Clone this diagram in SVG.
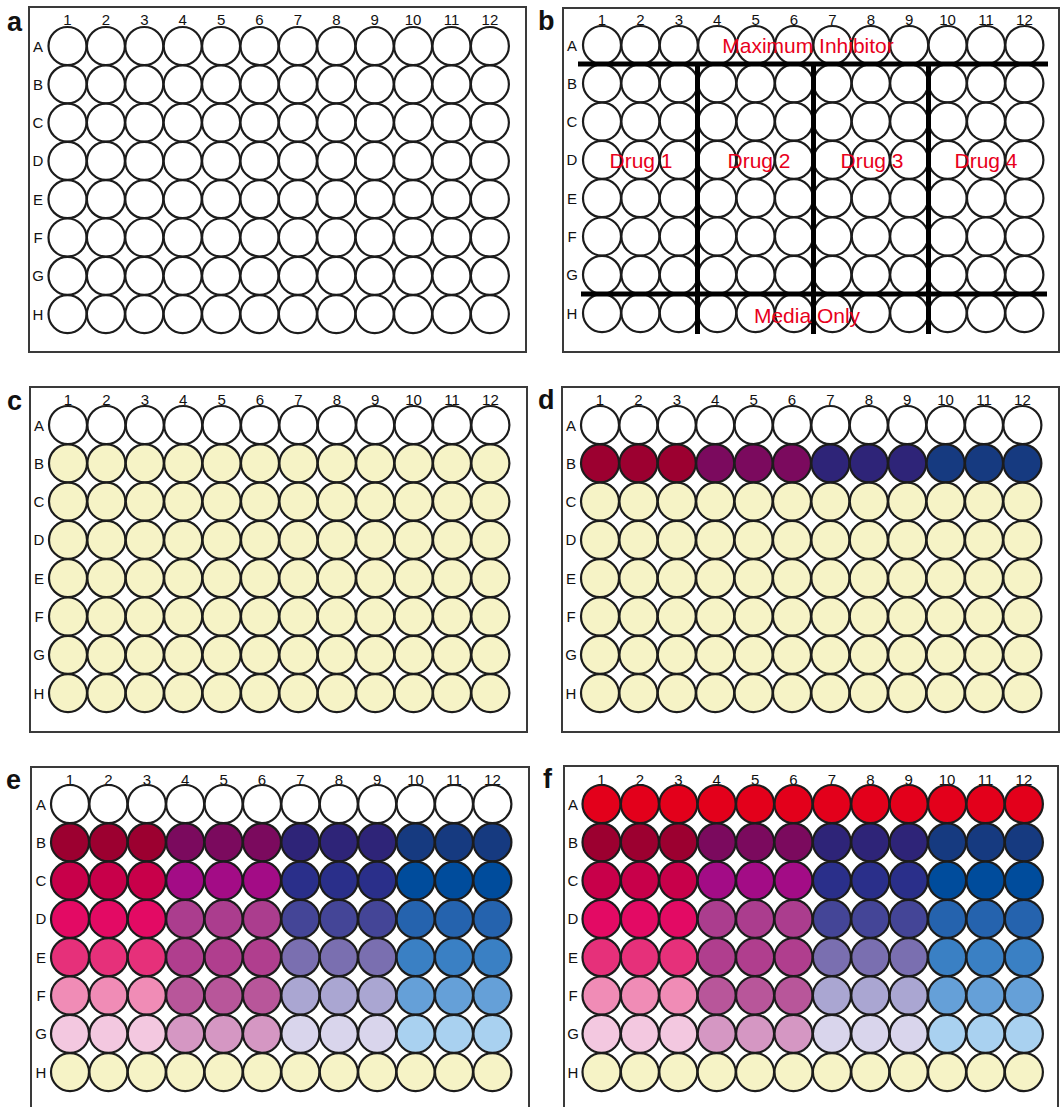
<svg xmlns="http://www.w3.org/2000/svg" xmlns:xlink="http://www.w3.org/1999/xlink" width="1061" height="1107" viewBox="0 0 1061 1107">
<style>
.frame{fill:#fff;stroke:#3a3a3a;stroke-width:2}
.well{stroke:#1c1c1c;stroke-width:2.2}
.num{font-family:"Liberation Sans",Arial,sans-serif;font-size:15px;fill:#111;text-anchor:middle}
.lbl{font-family:"Liberation Sans",Arial,sans-serif;font-size:27px;font-weight:bold;fill:#111}
.red{font-family:"Liberation Sans",Arial,sans-serif;font-size:21px;fill:#e8001c;text-anchor:middle}
.bar{stroke:#000;stroke-width:5;fill:none}
</style>
<defs>
<g id="tri"><circle class="well" cx="0" cy="0" r="19"/><circle class="well" cx="38.4" cy="0" r="19"/><circle class="well" cx="76.8" cy="0" r="19"/></g>
<g id="row"><use xlink:href="#tri" x="0"/><use xlink:href="#tri" x="115.2"/><use xlink:href="#tri" x="230.4"/><use xlink:href="#tri" x="345.6"/></g>
<g id="cols" class="num"><text x="0" y="0">1</text><text x="38.4" y="0">2</text><text x="76.8" y="0">3</text><text x="115.2" y="0">4</text><text x="153.6" y="0">5</text><text x="192" y="0">6</text><text x="230.4" y="0">7</text><text x="268.8" y="0">8</text><text x="307.2" y="0">9</text><text x="345.6" y="0">10</text><text x="384" y="0">11</text><text x="422.4" y="0">12</text></g>
<g id="rows" class="num"><text x="0" y="0">A</text><text x="0" y="38.3">B</text><text x="0" y="76.6">C</text><text x="0" y="114.9">D</text><text x="0" y="153.2">E</text><text x="0" y="191.5">F</text><text x="0" y="229.8">G</text><text x="0" y="268.1">H</text></g>
</defs>

<g id="panel-a">
<rect class="frame" x="29" y="7" width="497" height="345"/>
<text class="lbl" x="7" y="31">a</text>
<use xlink:href="#cols" x="67.5" y="25"/>
<use xlink:href="#rows" x="38" y="51.5"/>
<g transform="translate(67.5,46)" fill="#fff">
<use xlink:href="#row" y="0"/><use xlink:href="#row" y="38.3"/><use xlink:href="#row" y="76.6"/><use xlink:href="#row" y="114.9"/><use xlink:href="#row" y="153.2"/><use xlink:href="#row" y="191.5"/><use xlink:href="#row" y="229.8"/><use xlink:href="#row" y="268.1"/>
</g>
</g>

<g id="panel-b">
<rect class="frame" x="563" y="8" width="496" height="344"/>
<text class="lbl" x="538" y="30">b</text>
<use xlink:href="#cols" x="602" y="25"/>
<use xlink:href="#rows" x="572" y="50.5"/>
<g transform="translate(602,45)" fill="#fff">
<use xlink:href="#row" y="0"/><use xlink:href="#row" y="38.3"/><use xlink:href="#row" y="76.6"/><use xlink:href="#row" y="114.9"/><use xlink:href="#row" y="153.2"/><use xlink:href="#row" y="191.5"/><use xlink:href="#row" y="229.8"/><use xlink:href="#row" y="268.1"/>
</g>
<g id="connectors">
<line class="bar" x1="578" y1="64" x2="1048" y2="64"/>
<line class="bar" x1="581" y1="294" x2="1047" y2="294"/>
<line class="bar" x1="697.5" y1="64" x2="697.5" y2="334"/>
<line class="bar" x1="813.5" y1="64" x2="813.5" y2="334"/>
<line class="bar" x1="928.5" y1="64" x2="928.5" y2="334"/>
</g>
<text class="red" x="808" y="53">Maximum Inhibitor</text>
<text class="red" x="641" y="168">Drug 1</text>
<text class="red" x="759" y="168">Drug 2</text>
<text class="red" x="872" y="168">Drug 3</text>
<text class="red" x="986" y="168">Drug 4</text>
<text class="red" x="807" y="323">Media Only</text>
</g>

<g id="panel-c">
<rect class="frame" x="30" y="387" width="497" height="345"/>
<text class="lbl" x="7" y="410">c</text>
<use xlink:href="#cols" x="68" y="405"/>
<use xlink:href="#rows" x="39" y="430.5"/>
<g transform="translate(68,425)">
<use xlink:href="#row" y="0" fill="#fff"/>
<g fill="#f6f3c6"><use xlink:href="#row" y="38.3"/><use xlink:href="#row" y="76.6"/><use xlink:href="#row" y="114.9"/><use xlink:href="#row" y="153.2"/><use xlink:href="#row" y="191.5"/><use xlink:href="#row" y="229.8"/><use xlink:href="#row" y="268.1"/></g>
</g>
</g>

<g id="panel-d">
<rect class="frame" x="562" y="387" width="497" height="345"/>
<text class="lbl" x="538" y="409">d</text>
<use xlink:href="#cols" x="600" y="405"/>
<use xlink:href="#rows" x="571" y="430.5"/>
<g transform="translate(600,425)">
<use xlink:href="#row" y="0" fill="#fff"/>
<use xlink:href="#tri" x="0" y="38.3" fill="#9c0030"/><use xlink:href="#tri" x="115.2" y="38.3" fill="#7b0a5e"/><use xlink:href="#tri" x="230.4" y="38.3" fill="#2e2478"/><use xlink:href="#tri" x="345.6" y="38.3" fill="#163a80"/>
<g fill="#f6f3c6"><use xlink:href="#row" y="76.6"/><use xlink:href="#row" y="114.9"/><use xlink:href="#row" y="153.2"/><use xlink:href="#row" y="191.5"/><use xlink:href="#row" y="229.8"/><use xlink:href="#row" y="268.1"/></g>
</g>
</g>

<g id="panel-e">
<rect class="frame" x="31" y="767" width="498" height="350"/>
<text class="lbl" x="6" y="789">e</text>
<use xlink:href="#cols" x="70" y="785"/>
<use xlink:href="#rows" x="41" y="809.5"/>
<g transform="translate(70,804)">
<use xlink:href="#row" y="0" fill="#fff"/>
<use xlink:href="#tri" x="0" y="38.3" fill="#9c0030"/><use xlink:href="#tri" x="115.2" y="38.3" fill="#7b0a5e"/><use xlink:href="#tri" x="230.4" y="38.3" fill="#2e2478"/><use xlink:href="#tri" x="345.6" y="38.3" fill="#163a80"/>
<use xlink:href="#tri" x="0" y="76.6" fill="#c8004a"/><use xlink:href="#tri" x="115.2" y="76.6" fill="#a30c86"/><use xlink:href="#tri" x="230.4" y="76.6" fill="#2a2f8a"/><use xlink:href="#tri" x="345.6" y="76.6" fill="#004c9c"/>
<use xlink:href="#tri" x="0" y="114.9" fill="#e30a64"/><use xlink:href="#tri" x="115.2" y="114.9" fill="#ab3d8e"/><use xlink:href="#tri" x="230.4" y="114.9" fill="#444597"/><use xlink:href="#tri" x="345.6" y="114.9" fill="#2563ae"/>
<use xlink:href="#tri" x="0" y="153.2" fill="#e6307a"/><use xlink:href="#tri" x="115.2" y="153.2" fill="#b03e8e"/><use xlink:href="#tri" x="230.4" y="153.2" fill="#7a6fb0"/><use xlink:href="#tri" x="345.6" y="153.2" fill="#3a80c4"/>
<use xlink:href="#tri" x="0" y="191.5" fill="#f08cb6"/><use xlink:href="#tri" x="115.2" y="191.5" fill="#b8569a"/><use xlink:href="#tri" x="230.4" y="191.5" fill="#aaa6d2"/><use xlink:href="#tri" x="345.6" y="191.5" fill="#65a0d8"/>
<use xlink:href="#tri" x="0" y="229.8" fill="#f3c8e0"/><use xlink:href="#tri" x="115.2" y="229.8" fill="#d597c3"/><use xlink:href="#tri" x="230.4" y="229.8" fill="#d9d5ec"/><use xlink:href="#tri" x="345.6" y="229.8" fill="#a9d1f0"/>
<use xlink:href="#row" y="268.1" fill="#f6f3c6"/>
</g>
</g>

<g id="panel-f">
<rect class="frame" x="564" y="766" width="494" height="350"/>
<text class="lbl" x="543" y="788">f</text>
<use xlink:href="#cols" x="601.5" y="785"/>
<use xlink:href="#rows" x="573" y="809.5"/>
<g transform="translate(601.5,804)">
<use xlink:href="#row" y="0" fill="#e3001b"/>
<use xlink:href="#tri" x="0" y="38.3" fill="#9c0030"/><use xlink:href="#tri" x="115.2" y="38.3" fill="#7b0a5e"/><use xlink:href="#tri" x="230.4" y="38.3" fill="#2e2478"/><use xlink:href="#tri" x="345.6" y="38.3" fill="#163a80"/>
<use xlink:href="#tri" x="0" y="76.6" fill="#c8004a"/><use xlink:href="#tri" x="115.2" y="76.6" fill="#a30c86"/><use xlink:href="#tri" x="230.4" y="76.6" fill="#2a2f8a"/><use xlink:href="#tri" x="345.6" y="76.6" fill="#004c9c"/>
<use xlink:href="#tri" x="0" y="114.9" fill="#e30a64"/><use xlink:href="#tri" x="115.2" y="114.9" fill="#ab3d8e"/><use xlink:href="#tri" x="230.4" y="114.9" fill="#444597"/><use xlink:href="#tri" x="345.6" y="114.9" fill="#2563ae"/>
<use xlink:href="#tri" x="0" y="153.2" fill="#e6307a"/><use xlink:href="#tri" x="115.2" y="153.2" fill="#b03e8e"/><use xlink:href="#tri" x="230.4" y="153.2" fill="#7a6fb0"/><use xlink:href="#tri" x="345.6" y="153.2" fill="#3a80c4"/>
<use xlink:href="#tri" x="0" y="191.5" fill="#f08cb6"/><use xlink:href="#tri" x="115.2" y="191.5" fill="#b8569a"/><use xlink:href="#tri" x="230.4" y="191.5" fill="#aaa6d2"/><use xlink:href="#tri" x="345.6" y="191.5" fill="#65a0d8"/>
<use xlink:href="#tri" x="0" y="229.8" fill="#f3c8e0"/><use xlink:href="#tri" x="115.2" y="229.8" fill="#d597c3"/><use xlink:href="#tri" x="230.4" y="229.8" fill="#d9d5ec"/><use xlink:href="#tri" x="345.6" y="229.8" fill="#a9d1f0"/>
<use xlink:href="#row" y="268.1" fill="#f6f3c6"/>
</g>
</g>
</svg>
